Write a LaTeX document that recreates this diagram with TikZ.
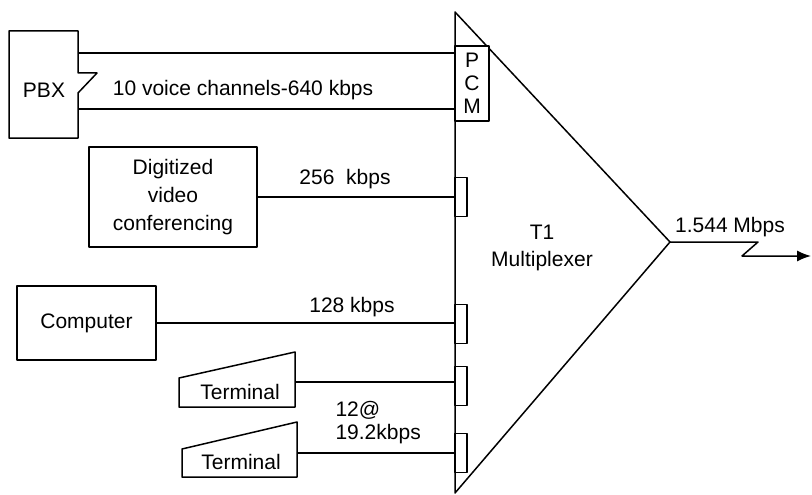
\documentclass[tikz,border=0pt]{standalone}
\usepackage{fontspec}
\setmainfont{Liberation Sans}
\usetikzlibrary{arrows.meta}

\tikzset{
  muxline/.style={line width=1.5pt},
  unitbox/.style={draw, line width=1.5pt, align=center, inner sep=0pt},
  portbox/.style={draw, fill=white, line width=1.5pt, minimum width=12pt, minimum height=39pt, inner sep=0pt},
}

\begin{document}
\begin{tikzpicture}[x=1pt,y=-1pt,line join=round,font=\fontsize{21}{25}\selectfont]
  % Match the artwork frame.
  \useasboundingbox (0,0) rectangle (812,495);

  % Multiplexer triangle; its left edge is the input bus.
  \coordinate (mtop) at (455,12);
  \coordinate (apex) at (670,242);
  \coordinate (mbot) at (455,493);
  \draw[muxline] (mtop) -- (apex) -- (mbot) -- cycle;
  \node[align=center, font=\fontsize{21}{27}\selectfont] (mux) at (542,248) {T1\\Multiplexer};

  % PCM block and the channel ports sit on the bus.
  \node[unitbox, fill=white, minimum width=34pt, minimum height=75pt, font=\fontsize{21}{23}\selectfont] (pcm) at (472,83.5) {P\\C\\M};
  \foreach \n/\y in {vport/197,cport/324,tport1/386,tport2/453} {
    \node[portbox] (\n) at (461,\y) {};
  }

  % PBX with its trunk notch.
  \draw[muxline] (9,31) -- (78,31) -- (78,73) -- (97,73) -- (78,93) -- (78,138) -- (9,138) -- cycle;
  \node (pbx) at (44,90) {PBX};
  \coordinate (pbxhi) at (78,53);
  \coordinate (pbxlo) at (78,109);
  \draw[muxline] (pbxhi) -- (pbxhi -| pcm.west);
  \draw[muxline] (pbxlo) -- (pbxlo -| pcm.west);
  \node (pbxrate) at (243,90) {10 voice channels-640 kbps};

  % Video conferencing unit.
  \node[unitbox, minimum width=168pt, minimum height=100pt, font=\fontsize{21}{28}\selectfont] (video) at (173,197) {Digitized\\video\\conferencing};
  \draw[muxline] (video.east) -- (video.east -| vport.west);
  \node (vrate) at (345,179) {256\ \ kbps};

  % Computer.
  \node[unitbox, minimum width=139pt, minimum height=74pt] (comp) at (86.5,323) {Computer};
  \draw[muxline] (comp.east) -- (comp.east -| cport.west);
  \node (crate) at (352,307) {128 kbps};

  % Terminals, drawn as slanted keyboards.
  \draw[muxline] (179,407) -- (179,378) -- (295,352) -- (295,407) -- cycle;
  \node (term1) at (240,392) {Terminal};
  \coordinate (term1out) at (295,382);
  \draw[muxline] (term1out) -- (term1out -| tport1.west);

  \draw[muxline] (182,477) -- (182,449) -- (297,422) -- (297,477) -- cycle;
  \node (term2) at (241,462) {Terminal};
  \coordinate (term2out) at (297,453);
  \draw[muxline] (term2out) -- (term2out -| tport2.west);
  \node[align=left, anchor=west, font=\fontsize{21}{23}\selectfont] (trate) at (332,423) {12@\\19.2kbps};

  % Aggregate T1 output.
  \coordinate (outtip) at (811,256);
  \draw[muxline, -{Latex[length=14pt,width=11pt]}] (apex) -- (758,242) -- (742,256) -- (outtip);
  \node (outrate) at (730,227) {1.544 Mbps};
\end{tikzpicture}
\end{document}
